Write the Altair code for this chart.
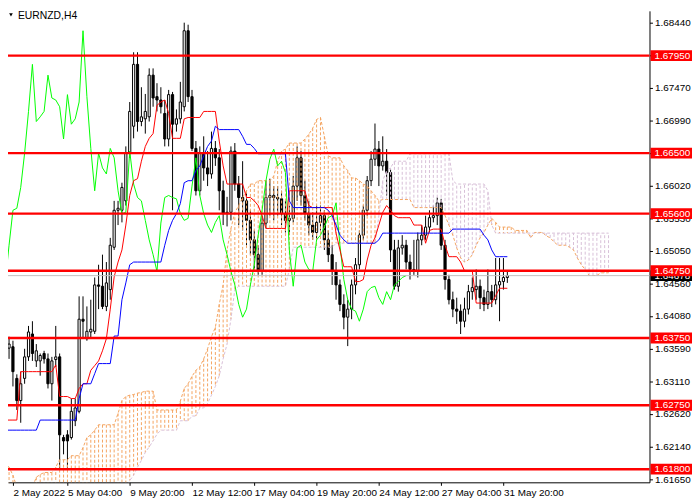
import json
import altair as alt
import pandas as pd

# ---------------- data (EURNZD, H4) ----------------
bar_open = [
    1.6337, 1.6360, 1.6362, 1.6315, 1.6282, 1.6315, 1.6347, 1.6381, 1.6341, 1.6341,
    1.6352, 1.6344, 1.6307, 1.6343, 1.6347, 1.6227, 1.6231, 1.6227, 1.6252, 1.6266,
    1.6403, 1.6374, 1.6384, 1.6385, 1.6454, 1.6452, 1.6422, 1.6447, 1.6510, 1.6565,
    1.6565, 1.6579, 1.6650, 1.6690, 1.6782, 1.6697, 1.6701, 1.6704, 1.6766, 1.6734,
    1.6729, 1.6709, 1.6671, 1.6737, 1.6693, 1.6701, 1.6719, 1.6832, 1.6734, 1.6657,
    1.6594, 1.6650, 1.6628, 1.6619, 1.6657, 1.6643, 1.6594, 1.6560, 1.6562, 1.6653,
    1.6604, 1.6584, 1.6579, 1.6550, 1.6521, 1.6499, 1.6474, 1.6546, 1.6584, 1.6587,
    1.6584, 1.6582, 1.6560, 1.6550, 1.6553, 1.6601, 1.6643, 1.6587, 1.6560, 1.6543,
    1.6532, 1.6547, 1.6557, 1.6521, 1.6499, 1.6474, 1.6454, 1.6425, 1.6406, 1.6418,
    1.6454, 1.6484, 1.6528, 1.6565, 1.6609, 1.6641, 1.6656, 1.6631, 1.6638, 1.6621,
    1.6506, 1.6452, 1.6509, 1.6513, 1.6488, 1.6477, 1.6474, 1.6521, 1.6528, 1.6540,
    1.6554, 1.6557, 1.6576, 1.6513, 1.6462, 1.6432, 1.6418, 1.6415, 1.6400, 1.6418,
    1.6444, 1.6447, 1.6452, 1.6435, 1.6425, 1.6444, 1.6432, 1.6454, 1.6459, 1.6465,
]
bar_high = [
    1.6377, 1.6377, 1.6371, 1.6321, 1.6325, 1.6359, 1.6393, 1.6400, 1.6366, 1.6352,
    1.6356, 1.6352, 1.6347, 1.6393, 1.6352, 1.6231, 1.6238, 1.6285, 1.6285, 1.6437,
    1.6437, 1.6422, 1.6432, 1.6465, 1.6484, 1.6499, 1.6488, 1.6524, 1.6579, 1.6579,
    1.6606, 1.6660, 1.6726, 1.6800, 1.6800, 1.6748, 1.6738, 1.6776, 1.6776, 1.6754,
    1.6748, 1.6729, 1.6744, 1.6741, 1.6715, 1.6756, 1.6844, 1.6841, 1.6744, 1.6668,
    1.6660, 1.6675, 1.6653, 1.6682, 1.6668, 1.6656, 1.6609, 1.6585, 1.6660, 1.6665,
    1.6616, 1.6638, 1.6594, 1.6565, 1.6535, 1.6513, 1.6557, 1.6609, 1.6612, 1.6601,
    1.6601, 1.6594, 1.6579, 1.6572, 1.6616, 1.6660, 1.6653, 1.6609, 1.6579, 1.6562,
    1.6572, 1.6572, 1.6565, 1.6535, 1.6513, 1.6488, 1.6462, 1.6440, 1.6432, 1.6462,
    1.6494, 1.6535, 1.6572, 1.6616, 1.6653, 1.6694, 1.6668, 1.6675, 1.6656, 1.6626,
    1.6521, 1.6521, 1.6528, 1.6521, 1.6499, 1.6521, 1.6532, 1.6543, 1.6557, 1.6565,
    1.6572, 1.6584, 1.6582, 1.6521, 1.6469, 1.6444, 1.6435, 1.6425, 1.6435, 1.6454,
    1.6465, 1.6477, 1.6462, 1.6447, 1.6477, 1.6454, 1.6494, 1.6494, 1.6494, 1.6474,
]
bar_low = [
    1.6297, 1.6344, 1.6303, 1.6268, 1.6249, 1.6307, 1.6341, 1.6341, 1.6332, 1.6319,
    1.6337, 1.6300, 1.6282, 1.6332, 1.6180, 1.6202, 1.6180, 1.6224, 1.6244, 1.6263,
    1.6374, 1.6371, 1.6374, 1.6381, 1.6418, 1.6418, 1.6415, 1.6432, 1.6506, 1.6543,
    1.6547, 1.6572, 1.6643, 1.6672, 1.6682, 1.6690, 1.6679, 1.6697, 1.6719, 1.6712,
    1.6709, 1.6660, 1.6660, 1.6565, 1.6682, 1.6694, 1.6712, 1.6726, 1.6653, 1.6587,
    1.6587, 1.6609, 1.6601, 1.6612, 1.6631, 1.6565, 1.6543, 1.6541, 1.6550, 1.6594,
    1.6543, 1.6535, 1.6513, 1.6499, 1.6477, 1.6469, 1.6469, 1.6538, 1.6557, 1.6550,
    1.6557, 1.6543, 1.6532, 1.6528, 1.6547, 1.6579, 1.6572, 1.6550, 1.6528, 1.6521,
    1.6521, 1.6535, 1.6506, 1.6488, 1.6454, 1.6432, 1.6415, 1.6388, 1.6363, 1.6403,
    1.6440, 1.6477, 1.6521, 1.6557, 1.6601, 1.6631, 1.6601, 1.6624, 1.6587, 1.6488,
    1.6447, 1.6444, 1.6499, 1.6477, 1.6462, 1.6469, 1.6465, 1.6513, 1.6521, 1.6532,
    1.6547, 1.6543, 1.6506, 1.6447, 1.6425, 1.6406, 1.6396, 1.6381, 1.6391, 1.6410,
    1.6432, 1.6432, 1.6418, 1.6415, 1.6418, 1.6421, 1.6425, 1.6400, 1.6447, 1.6457,
]
bar_close = [
    1.6365, 1.6366, 1.6325, 1.6282, 1.6307, 1.6347, 1.6384, 1.6352, 1.6356, 1.6349,
    1.6344, 1.6307, 1.6341, 1.6347, 1.6231, 1.6222, 1.6222, 1.6266, 1.6271, 1.6403,
    1.6400, 1.6385, 1.6388, 1.6454, 1.6452, 1.6422, 1.6457, 1.6513, 1.6565, 1.6568,
    1.6599, 1.6650, 1.6712, 1.6782, 1.6697, 1.6704, 1.6712, 1.6766, 1.6732, 1.6729,
    1.6719, 1.6671, 1.6737, 1.6693, 1.6701, 1.6726, 1.6832, 1.6734, 1.6657, 1.6594,
    1.6650, 1.6628, 1.6619, 1.6657, 1.6643, 1.6594, 1.6560, 1.6562, 1.6653, 1.6604,
    1.6584, 1.6579, 1.6550, 1.6521, 1.6499, 1.6474, 1.6546, 1.6584, 1.6587, 1.6584,
    1.6582, 1.6560, 1.6550, 1.6553, 1.6601, 1.6643, 1.6587, 1.6560, 1.6543, 1.6532,
    1.6547, 1.6557, 1.6521, 1.6499, 1.6474, 1.6454, 1.6425, 1.6406, 1.6418, 1.6454,
    1.6484, 1.6528, 1.6565, 1.6609, 1.6641, 1.6656, 1.6631, 1.6638, 1.6621, 1.6506,
    1.6452, 1.6509, 1.6513, 1.6488, 1.6477, 1.6474, 1.6521, 1.6528, 1.6540, 1.6554,
    1.6557, 1.6576, 1.6513, 1.6462, 1.6432, 1.6418, 1.6415, 1.6400, 1.6418, 1.6444,
    1.6450, 1.6452, 1.6435, 1.6425, 1.6444, 1.6432, 1.6454, 1.6459, 1.6465, 1.64678,
]
tenkan = [
    1.6253, 1.6253, 1.6253, 1.6253, 1.6325, 1.6325, 1.6325, 1.6325, 1.6325, 1.6325,
    1.6325, 1.6325, 1.6325, 1.6335, 1.6288, 1.6288, 1.6288, 1.6285, 1.6285, 1.6300,
    1.6307, 1.6307, 1.6327, 1.6334, 1.6341, 1.6356, 1.6374, 1.6418, 1.6466, 1.6488,
    1.6506, 1.6543, 1.6587, 1.6609, 1.6612, 1.6638, 1.6660, 1.6672, 1.6679, 1.6721,
    1.6726, 1.6729, 1.6709, 1.6672, 1.6672, 1.6672, 1.6701, 1.6703, 1.6703, 1.6703,
    1.6703, 1.6712, 1.6712, 1.6712, 1.6712, 1.6668, 1.6631, 1.6604, 1.6604, 1.6604,
    1.6604, 1.6604, 1.6584, 1.6584, 1.6579, 1.6572, 1.6557, 1.6538, 1.6538, 1.6538,
    1.6538, 1.6538, 1.6538, 1.6594, 1.6594, 1.6594, 1.6594, 1.6594, 1.6572, 1.6569,
    1.6569, 1.6569, 1.6569, 1.6569, 1.6569, 1.6531, 1.6506, 1.6481, 1.6481, 1.6481,
    1.6459, 1.6459, 1.6462, 1.6491, 1.6513, 1.6524, 1.6543, 1.6562, 1.6572, 1.6565,
    1.6557, 1.6554, 1.6554, 1.6554, 1.6554, 1.6543, 1.6543, 1.6543, 1.6516, 1.6535,
    1.6537, 1.6537, 1.6537, 1.6513, 1.6496, 1.6496, 1.6496, 1.6488, 1.6475, 1.6475,
    1.6475, 1.6427, 1.6427, 1.6427, 1.6427, 1.6427, 1.6438, 1.6449, 1.6449, 1.6449,
]
kijun = [
    1.6238, 1.6238, 1.6238, 1.6238, 1.6238, 1.6238, 1.6238, 1.6238, 1.6238, 1.6253,
    1.6253, 1.6253, 1.6253, 1.6253, 1.6253, 1.6253, 1.6253, 1.6253, 1.6253, 1.6285,
    1.6307, 1.6307, 1.6307, 1.6322, 1.6337, 1.6337, 1.6337, 1.6337, 1.6378, 1.6378,
    1.6432, 1.6457, 1.6484, 1.6488, 1.6488, 1.6488, 1.6488, 1.6488, 1.6488, 1.6488,
    1.6488, 1.6513, 1.6535, 1.6550, 1.6560, 1.6575, 1.6606, 1.6609, 1.6609, 1.6624,
    1.6631, 1.6646, 1.6660, 1.6668, 1.6690, 1.6685, 1.6685, 1.6685, 1.6685, 1.6685,
    1.6685, 1.6675, 1.6663, 1.6663, 1.6657, 1.6649, 1.6649, 1.6649, 1.6649, 1.6649,
    1.6649, 1.6649, 1.6649, 1.6579, 1.6569, 1.6569, 1.6569, 1.6569, 1.6569, 1.6569,
    1.6569, 1.6569, 1.6569, 1.6565, 1.6557, 1.6543, 1.6528, 1.6521, 1.6516, 1.6516,
    1.6516, 1.6516, 1.6516, 1.6516, 1.6516, 1.6516, 1.6521, 1.6531, 1.6531, 1.6531,
    1.6531, 1.6531, 1.6531, 1.6531, 1.6531, 1.6531, 1.6531, 1.6531, 1.6531, 1.6531,
    1.6531, 1.6531, 1.6531, 1.6531, 1.6531, 1.6537, 1.6537, 1.6537, 1.6537, 1.6537,
    1.6537, 1.6537, 1.6537, 1.6528, 1.6521, 1.6506, 1.6496, 1.6496, 1.6496, 1.6496,
]
span_a = [
    1.6190, 1.6183, 1.6171, 1.6153, 1.6153, 1.6153, 1.6153, 1.6153, 1.6168, 1.6172,
    1.6175, 1.6175, 1.6175, 1.6183, 1.6194, 1.6194, 1.6194, 1.6200, 1.6200, 1.6200,
    1.6212, 1.6227, 1.6231, 1.6238, 1.6246, 1.6246, 1.6246, 1.6246, 1.6246, 1.6263,
    1.6282, 1.6288, 1.6290, 1.6291, 1.6293, 1.6294, 1.6296, 1.6296, 1.6296, 1.6268,
    1.6268, 1.6268, 1.6268, 1.6268, 1.6268, 1.6281, 1.6300, 1.6307, 1.6318, 1.6327,
    1.6332, 1.6344, 1.6359, 1.6377, 1.6391, 1.6425, 1.6454, 1.6506, 1.6538, 1.6562,
    1.6572, 1.6584, 1.6594, 1.6604, 1.6604, 1.6609, 1.6609, 1.6609, 1.6609, 1.6616,
    1.6638, 1.6653, 1.6656, 1.6665, 1.6665, 1.6665, 1.6665, 1.6671, 1.6678, 1.6687,
    1.6700, 1.6703, 1.6675, 1.6646, 1.6643, 1.6643, 1.6643, 1.6631, 1.6624, 1.6613,
    1.6613, 1.6609, 1.6604, 1.6601, 1.6594, 1.6587, 1.6579, 1.6581, 1.6581, 1.6581,
    1.6581, 1.6581, 1.6581, 1.6581, 1.6581, 1.6569, 1.6569, 1.6569, 1.6569, 1.6569,
    1.6569, 1.6569, 1.6569, 1.6557, 1.6543, 1.6528, 1.6509, 1.6494, 1.6488, 1.6491,
    1.6499, 1.6513, 1.6524, 1.6532, 1.6543, 1.6553, 1.6547, 1.6540, 1.6540, 1.6540,
    1.6540, 1.6535, 1.6535, 1.6535, 1.6535, 1.6524, 1.6532, 1.6532, 1.6532, 1.6527,
    1.6524, 1.6518, 1.6513, 1.6513, 1.6513, 1.6510, 1.6506, 1.6494, 1.6484, 1.6477,
    1.6468, 1.6468, 1.6468, 1.6472, 1.6472, 1.6472,
]
span_b = [
    1.6146, 1.6146, 1.6146, 1.6146, 1.6146, 1.6146, 1.6146, 1.6146, 1.6146, 1.6146,
    1.6146, 1.6146, 1.6146, 1.6146, 1.6146, 1.6146, 1.6146, 1.6146, 1.6146, 1.6146,
    1.6146, 1.6146, 1.6146, 1.6146, 1.6146, 1.6146, 1.6146, 1.6146, 1.6146, 1.6146,
    1.6146, 1.6146, 1.6163, 1.6171, 1.6183, 1.6193, 1.6205, 1.6213, 1.6222, 1.6232,
    1.6238, 1.6238, 1.6238, 1.6238, 1.6238, 1.6252, 1.6252, 1.6252, 1.6259, 1.6259,
    1.6271, 1.6271, 1.6278, 1.6290, 1.6303, 1.6319, 1.6344, 1.6366, 1.6403, 1.6447,
    1.6452, 1.6452, 1.6452, 1.6452, 1.6452, 1.6452, 1.6452, 1.6452, 1.6452, 1.6452,
    1.6452, 1.6452, 1.6452, 1.6477, 1.6510, 1.6510, 1.6510, 1.6510, 1.6510, 1.6510,
    1.6510, 1.6510, 1.6510, 1.6510, 1.6510, 1.6516, 1.6516, 1.6516, 1.6516, 1.6516,
    1.6516, 1.6516, 1.6516, 1.6516, 1.6516, 1.6516, 1.6557, 1.6609, 1.6624, 1.6628,
    1.6638, 1.6638, 1.6638, 1.6638, 1.6649, 1.6649, 1.6649, 1.6649, 1.6649, 1.6649,
    1.6649, 1.6649, 1.6649, 1.6649, 1.6649, 1.6609, 1.6604, 1.6604, 1.6604, 1.6604,
    1.6604, 1.6604, 1.6604, 1.6604, 1.6594, 1.6543, 1.6531, 1.6531, 1.6531, 1.6531,
    1.6531, 1.6531, 1.6531, 1.6531, 1.6531, 1.6531, 1.6531, 1.6531, 1.6531, 1.6531,
    1.6531, 1.6531, 1.6531, 1.6531, 1.6531, 1.6531, 1.6531, 1.6531, 1.6531, 1.6531,
    1.6531, 1.6531, 1.6531, 1.6531, 1.6531, 1.6531,
]
chikou_shift = 26
levels = [1.6795, 1.6650, 1.6560, 1.6475, 1.6375, 1.6275, 1.6180]
level_text = ["1.67950", "1.66500", "1.65600", "1.64750", "1.63750", "1.62750", "1.61800"]
current_price = 1.64678
y_ticks = [1.6844, 1.6795, 1.6747, 1.6699, 1.6650, 1.6602, 1.6553, 1.6505,
           1.6456, 1.6408, 1.6359, 1.6311, 1.6262, 1.6214, 1.6165]
x_ticks = [2, 16, 32, 48, 64, 80, 96, 112, 128]
x_labels = ["2 May 2022", "5 May 04:00", "9 May 20:00", "12 May 12:00", "17 May 04:00",
            "19 May 20:00", "24 May 12:00", "27 May 04:00", "31 May 20:00"]
symbol_title = "EURNZD,H4"

# ---------------- frames ----------------
n = len(bar_close)
candles = pd.DataFrame({
    "i": list(range(n)), "open": bar_open, "high": bar_high,
    "low": bar_low, "close": bar_close,
})
candles["fill"] = ["white" if c >= o else "black" for o, c in zip(bar_open, bar_close)]
lines = pd.DataFrame({"i": list(range(n)), "tenkan": tenkan, "kijun": kijun})
chikou = pd.DataFrame({"i": list(range(n - chikou_shift)), "v": bar_close[chikou_shift:]})
cloud = pd.DataFrame({"i": list(range(len(span_a))), "a": span_a, "b": span_b})
cloud["kind"] = ["up" if a >= b else "down" for a, b in zip(span_a, span_b)]
lv = pd.DataFrame({"p": levels, "t": level_text})
cur = pd.DataFrame({"p": [current_price], "t": [f"{current_price:.5f}"]})

FONT = "Liberation Sans"
W, H = 649, 477
xs = alt.Scale(domain=[2, 164.25], nice=False, zero=False)
ys = alt.Scale(domain=[1.61604, 1.68616], nice=False, zero=False)

label_expr = f"{json.dumps(x_labels)}[indexof({json.dumps(x_ticks)}, datum.value)]"
xaxis = alt.Axis(values=x_ticks, labelExpr=label_expr, labelAlign="left", labelPadding=2,
                 tickSize=3, labelFont=FONT, labelFontSize=10, labelColor="black",
                 tickColor="black", domainColor="black", grid=False, title=None,
                 labelOverlap=False, labelFlush=False, labelBound=False)
yaxis = alt.Axis(orient="right", values=y_ticks, format=".5f", tickSize=3, labelPadding=2,
                 labelFont=FONT, labelFontSize=10, labelColor="black", tickColor="black",
                 domainColor="black", grid=False, title=None, labelOverlap=False,
                 labelFlush=False)


def X(field="i"):
    return alt.X(f"{field}:Q", scale=xs, axis=xaxis, title=None)


def Y(field):
    return alt.Y(f"{field}:Q", scale=ys, axis=yaxis, title=None)


wicks = alt.Chart(candles).mark_rule(color="black", strokeWidth=1, clip=True).encode(
    x=X(), y=Y("low"), y2="high")
bodies = alt.Chart(candles).mark_bar(size=2.2, stroke="black", strokeWidth=1, clip=True).encode(
    x=X(), y=Y("open"), y2="close", fill=alt.Fill("fill:N", scale=None))

hatch = alt.Chart(cloud).mark_rule(strokeWidth=1, strokeDash=[3, 2], clip=True).encode(
    x=X(), y=Y("a"), y2="b",
    color=alt.Color("kind:N", scale=alt.Scale(domain=["up", "down"],
                                              range=["#F4A460", "#D8BFD8"]), legend=None))
line_a = alt.Chart(cloud).mark_line(color="#F4A460", strokeWidth=1, strokeDash=[3, 2],
                                    clip=True).encode(x=X(), y=Y("a"))
line_b = alt.Chart(cloud).mark_line(color="#D8BFD8", strokeWidth=1, strokeDash=[3, 2],
                                    clip=True).encode(x=X(), y=Y("b"))
chikou_line = alt.Chart(chikou).mark_line(color="#00FF00", strokeWidth=1, clip=True).encode(
    x=X(), y=Y("v"))
tenkan_line = alt.Chart(lines).mark_line(color="#FF0000", strokeWidth=1, clip=True).encode(
    x=X(), y=Y("tenkan"))
kijun_line = alt.Chart(lines).mark_line(color="#0000FF", strokeWidth=1, clip=True).encode(
    x=X(), y=Y("kijun"))

bid_line = alt.Chart(cur).mark_rule(color="#C0C0C0", strokeWidth=1).encode(
    y=Y("p"), x=alt.value(0), x2=alt.value(W))
level_lines = alt.Chart(lv).mark_rule(color="#FF0000", strokeWidth=2.5).encode(
    y=Y("p"), x=alt.value(0), x2=alt.value(W))

cur_box = alt.Chart(cur).mark_rule(color="black", strokeWidth=11, strokeCap="butt").encode(
    y=Y("p"), x=alt.value(W + 1), x2=alt.value(W + 43))
cur_txt = alt.Chart(cur).mark_text(color="white", font=FONT, fontSize=10, align="left",
                                   baseline="middle").encode(
    y=Y("p"), x=alt.value(W + 5), text="t:N")
lv_box = alt.Chart(lv).mark_rule(color="#FF0000", strokeWidth=11, strokeCap="butt").encode(
    y=Y("p"), x=alt.value(W + 1), x2=alt.value(W + 43))
lv_txt = alt.Chart(lv).mark_text(color="white", font=FONT, fontSize=10, align="left",
                                 baseline="middle").encode(
    y=Y("p"), x=alt.value(W + 5), text="t:N")

title_df = pd.DataFrame({"t": [symbol_title]})
title_txt = alt.Chart(title_df).mark_text(color="black", font=FONT, fontSize=10.5,
                                          align="left", baseline="top").encode(
    x=alt.value(10), y=alt.value(0), text="t:N")
title_tri = alt.Chart(title_df).mark_point(shape="triangle-down", filled=True, color="black",
                                           size=14, opacity=1).encode(
    x=alt.value(3), y=alt.value(4))

chart = alt.layer(
    wicks, bodies, hatch, line_a, line_b, chikou_line, tenkan_line, kijun_line,
    bid_line, level_lines, cur_box, cur_txt, lv_box, lv_txt, title_txt, title_tri,
).properties(
    width=W, height=H,
    autosize=alt.AutoSizeParams(type="none"),
    padding={"left": 0, "top": 0, "right": 43, "bottom": 15},
    background="white",
).configure_view(stroke=None)

chart.save("out.html", embed_options={"renderer": "svg", "actions": False})
